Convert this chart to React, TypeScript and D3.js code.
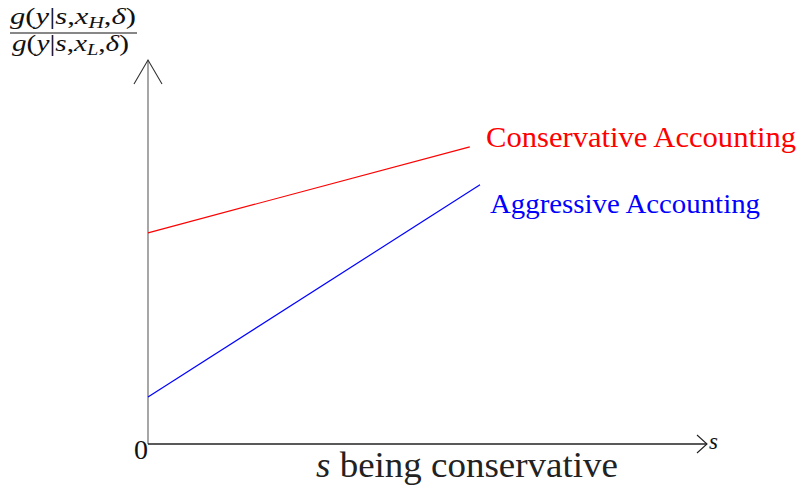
import React from "react";
import * as d3 from "d3";

const sDomain = [0, 12];
const ratioDomain = [0, 8];
const conservativeS = [0, 6.92];
const conservativeRatio = [4.4, 6.19];
const aggressiveS = [0, 7.14];
const aggressiveRatio = [0.98, 5.4];
const seriesLabels = ["Conservative Accounting", "Aggressive Accounting"];
const originLabel = "0";
const xAxisLabel = "s";
const xTitle = " being conservative";

const W = 801;
const H = 488;
const FONT = "'Liberation Serif', 'DejaVu Serif', serif";

export default function App() {
  const x = d3.scaleLinear().domain(sDomain).range([148, 706]);
  const y = d3.scaleLinear().domain(ratioDomain).range([444, 60]);
  const line = d3
    .line<[number, number]>()
    .x((d) => x(d[0]))
    .y((d) => y(d[1]));
  const cons: [number, number][] = conservativeS.map((s, i) => [s, conservativeRatio[i]]);
  const aggr: [number, number][] = aggressiveS.map((s, i) => [s, aggressiveRatio[i]]);
  const x0 = x(sDomain[0]);
  const y0 = y(ratioDomain[0]);
  const xEnd = x(sDomain[1]) + 1;
  const yTop = y(ratioDomain[1]);

  return (
    <svg
      width={W}
      height={H}
      style={{ position: "absolute", left: 0, top: 0, background: "#fff", fontFamily: FONT }}
    >
      <rect width={W} height={H} fill="#fff" />
      {/* y axis */}
      <line x1={x0} y1={y0} x2={x0} y2={yTop} stroke="#777" strokeWidth={1.3} />
      <polyline
        points={`${x0 - 14},${yTop + 24} ${x0},${yTop} ${x0 + 14},${yTop + 24}`}
        fill="none"
        stroke="#333"
        strokeWidth={1.1}
      />
      {/* x axis */}
      <line x1={x0} y1={y0} x2={xEnd} y2={y0} stroke="#222" strokeWidth={1.3} />
      <polyline
        points={`${xEnd - 10},${y0 - 9} ${xEnd},${y0} ${xEnd - 10},${y0 + 9}`}
        fill="none"
        stroke="#222"
        strokeWidth={1.1}
      />
      {/* lines */}
      <path d={line(cons) || ""} fill="none" stroke="#ff0000" strokeWidth={1.2} />
      <path d={line(aggr) || ""} fill="none" stroke="#0000ff" strokeWidth={1.2} />

      {/* series labels */}
      <text
        x={486}
        y={147}
        fill="#ff0000"
        fontSize={29}
        textLength={310}
        lengthAdjust="spacingAndGlyphs"
      >
        {seriesLabels[0]}
      </text>
      <text
        x={490}
        y={213}
        fill="#0000ff"
        fontSize={28}
        textLength={270}
        lengthAdjust="spacingAndGlyphs"
      >
        {seriesLabels[1]}
      </text>

      {/* origin */}
      <text x={148} y={459} fontSize={28} textAnchor="end" fill="#111">
        {originLabel}
      </text>
      {/* x axis end label */}
      <text x={709} y={449} fontSize={23} fontStyle="italic" fill="#111">
        {xAxisLabel}
      </text>
      {/* x title */}
      <text x={316} y={477} fontSize={36} fill="#222" textLength={302} lengthAdjust="spacingAndGlyphs">
        <tspan fontStyle="italic">s</tspan>
        <tspan>{xTitle}</tspan>
      </text>

      {/* y axis label fraction */}
      <text x={10} y={24} fontSize={23} fill="#111" textLength={126} lengthAdjust="spacingAndGlyphs">
        <tspan fontStyle="italic">g</tspan>
        <tspan>(</tspan>
        <tspan fontStyle="italic">y</tspan>
        <tspan>|</tspan>
        <tspan fontStyle="italic">s</tspan>
        <tspan>,</tspan>
        <tspan fontStyle="italic">x</tspan>
        <tspan fontStyle="italic" fontSize={16} dy={4}>H</tspan>
        <tspan dy={-4}>,</tspan>
        <tspan fontStyle="italic">δ</tspan>
        <tspan>)</tspan>
      </text>
      <line x1={10} y1={33} x2={137} y2={33} stroke="#111" strokeWidth={1.1} />
      <text x={12} y={51} fontSize={23} fill="#111" textLength={117} lengthAdjust="spacingAndGlyphs">
        <tspan fontStyle="italic">g</tspan>
        <tspan>(</tspan>
        <tspan fontStyle="italic">y</tspan>
        <tspan>|</tspan>
        <tspan fontStyle="italic">s</tspan>
        <tspan>,</tspan>
        <tspan fontStyle="italic">x</tspan>
        <tspan fontStyle="italic" fontSize={16} dy={4}>L</tspan>
        <tspan dy={-4}>,</tspan>
        <tspan fontStyle="italic">δ</tspan>
        <tspan>)</tspan>
      </text>
    </svg>
  );
}
